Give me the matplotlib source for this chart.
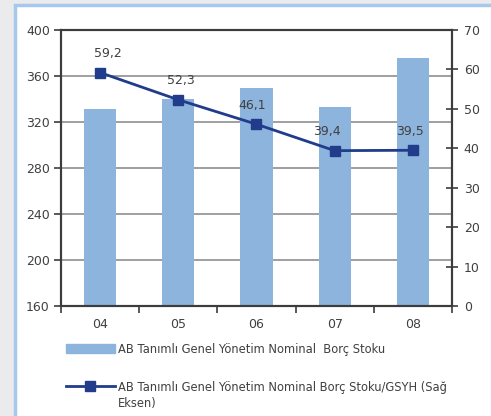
import matplotlib.pyplot as plt
import matplotlib.patches as mpatches
from matplotlib.lines import Line2D
import numpy as np

years = ["04", "05", "06", "07", "08"]
borc_stoku = [331, 340, 350, 333, 376]
borc_gsyh = [59.2, 52.3, 46.1, 39.4, 39.5]
label_dx = [8, 3, -4, -8, -3]  # small horizontal nudge of value labels, px

bar_color = "#8db4dc"
line_color = "#203c8a"
text_color = "#404040"
spine_color = "#3c3c3c"

plt.rcParams["font.family"] = ["DejaVu Sans"]
plt.rcParams["font.size"] = 9

fig = plt.figure(figsize=(4.91, 4.16), dpi=100)
fig.patch.set_facecolor("#ebebed")

# white panel with blue frame (cut at right and bottom)
fig.add_artist(mpatches.Rectangle((15 / 491, -0.05), 1.0, 1 - 5 / 416 + 0.05,
                                  transform=fig.transFigure, facecolor="white",
                                  edgecolor="#a6c8ec", linewidth=2.5, zorder=0))

ax = fig.add_axes([61 / 491, 110 / 416, 391 / 491, 276 / 416])
ax.set_facecolor("none")
x = np.arange(len(years))

ax.bar(x, borc_stoku, width=0.41, color=bar_color, zorder=2)
ax.set_ylim(160, 400)
ax.set_yticks(np.arange(160, 401, 40))
ax.set_xlim(-0.5, len(years) - 0.5)
ax.set_xticks(x)
ax.set_xticklabels(years)
ax.set_xticks(np.arange(-0.5, len(years), 1), minor=True)
ax.tick_params(axis="x", which="major", length=0, pad=9, colors=text_color, labelsize=9)
ax.tick_params(axis="x", which="minor", length=5, width=1.2, color=spine_color, direction="out")
ax.tick_params(axis="y", length=5, width=1.2, color=spine_color, colors=text_color, labelsize=9, pad=3)
ax.tick_params(axis="y", color=spine_color)
ax.yaxis.grid(True, color="#858585", linewidth=1.1, zorder=1)
ax.set_axisbelow(True)
for s in ax.spines.values():
    s.set_color(spine_color)
    s.set_linewidth(1.5)

ax2 = ax.twinx()
ax2.plot(x, borc_gsyh, color=line_color, linewidth=2, marker="s",
         markersize=7.5, markerfacecolor=line_color, markeredgecolor=line_color, zorder=3)
ax2.set_ylim(0, 70)
ax2.set_yticks(np.arange(0, 71, 10))
ax2.tick_params(axis="y", direction="inout", length=9, width=1.2, color=spine_color,
                colors=text_color, labelsize=9, pad=4)
ax2.tick_params(axis="y", color=spine_color)
for s in ax2.spines.values():
    s.set_color(spine_color)
    s.set_linewidth(1.5)

for xi, v, dx in zip(x, borc_gsyh, label_dx):
    ax2.annotate(f"{v:.1f}".replace(".", ","), (xi, v), xytext=(dx * 0.72, 9),
                 textcoords="offset points", ha="center", va="bottom",
                 color=text_color, fontsize=9)

h1 = mpatches.Patch(color=bar_color)
h2 = Line2D([], [], color=line_color, linewidth=2, marker="s", markersize=7.5)
leg1 = fig.legend([h1], ["AB Tanımlı Genel Yönetim Nominal  Borç Stoku"],
                  loc="center left", bbox_to_anchor=(66 / 491, 1 - 349 / 416),
                  frameon=False, handlelength=4.25, handleheight=0.9, handletextpad=0.25,
                  borderaxespad=0, borderpad=0, labelcolor=text_color, fontsize=8.3)
leg2 = fig.legend([h2], ["AB Tanımlı Genel Yönetim Nominal Borç Stoku/GSYH (Sağ"],
                  loc="center left", bbox_to_anchor=(66 / 491, 1 - 387 / 416),
                  frameon=False, handlelength=4.25, handletextpad=0.25,
                  borderaxespad=0, borderpad=0, labelcolor=text_color, fontsize=8.3)
fig.text(118 / 491, 1 - 404 / 416, "Eksen)", ha="left", va="center",
         color=text_color, fontsize=8.3)

fig.savefig("out.png", dpi=100, facecolor=fig.get_facecolor())
